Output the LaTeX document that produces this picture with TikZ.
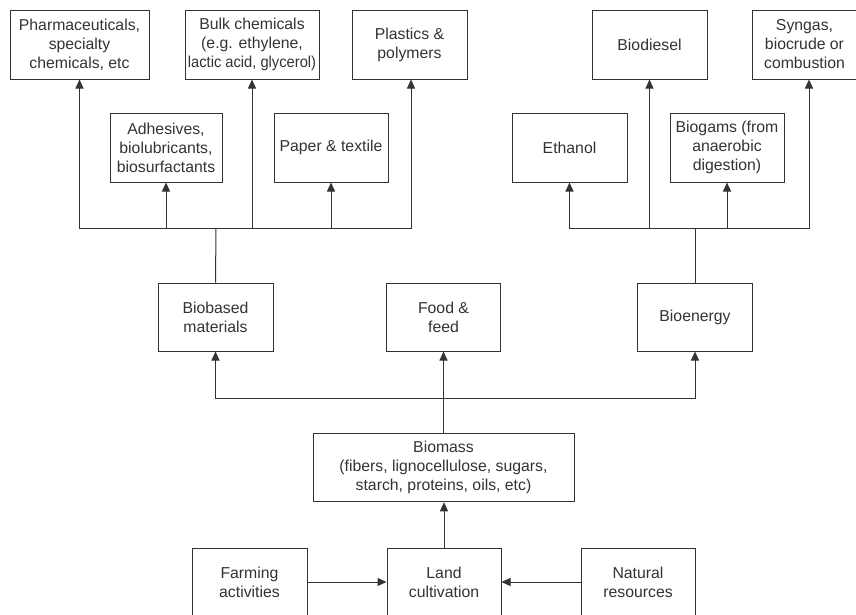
\documentclass[tikz,border=0pt]{standalone}
\usepackage{fontspec}
\setmainfont{Liberation Sans}
\usetikzlibrary{arrows.meta}
\definecolor{ink}{gray}{0.2}
\begin{document}
\begin{tikzpicture}[x=1pt,y=-1pt,
  box/.style={draw=ink,line width=1pt,align=center,inner sep=0pt,
    text=ink,font=\fontsize{15.8}{19}\selectfont,minimum height=69pt},
  link/.style={draw=ink,line width=1pt},
  arr/.style={link,-{Triangle[length=9pt,width=8pt]}}]
\useasboundingbox (0,0) rectangle (856,614);
\clip (0,0) rectangle (856,614);
% products of biobased materials
\node[box,minimum width=139pt] (pharma) at (79.5,44.5) {Pharmaceuticals,\\specialty\\chemicals, etc};
\node[box,minimum width=134pt] (bulk) at (252,44.5) {Bulk chemicals\\(e.g. ethylene,\\\scalebox{0.93}[1]{lactic acid, glycerol)}};
\node[box,minimum width=115pt] (plast) at (409.5,44.5) {Plastics \&\\polymers};
\node[box,minimum width=112pt] (adhes) at (166,147.5) {Adhesives,\\biolubricants,\\biosurfactants};
\node[box,minimum width=114pt] (paper) at (331,147.5) {Paper \& textile};
% products of bioenergy
\node[box,minimum width=115pt] (diesel) at (649.5,44.5) {Biodiesel};
\node[box,minimum width=105pt] (syngas) at (804.5,44.5) {Syngas,\\biocrude or\\combustion};
\node[box,minimum width=115pt] (ethanol) at (569.5,147.5) {Ethanol};
\node[box,minimum width=114pt] (biogas) at (727,147.5) {Biogams (from\\anaerobic\\digestion)};
% uses of biomass
\node[box,minimum width=115pt,minimum height=68pt] (biobased) at (215.5,317) {Biobased\\materials};
\node[box,minimum width=114.5pt,minimum height=68pt] (food) at (443.5,317) {Food \&\\feed};
\node[box,minimum width=114.5pt,minimum height=68pt] (energy) at (695,317) {Bioenergy};
% biomass and its sources
\node[box,minimum width=261pt,minimum height=68.5pt] (biomass) at (443.5,467.5) {Biomass\\(fibers, lignocellulose, sugars,\\starch, proteins, oils, etc)};
\node[box,minimum width=114pt,minimum height=68pt] (land) at (444,582) {Land\\cultivation};
\node[box,minimum width=115pt,minimum height=68pt] (farm) at (249.5,582) {Farming\\activities};
\node[box,minimum width=114pt,minimum height=68pt] (natural) at (638,582) {Natural\\resources};
% junctions of the distribution lines
\coordinate (jL) at (216,228);
\coordinate (jR) at (695,228);
\coordinate (jM) at (443.5,398);
% biobased materials branch
\draw[link] (biobased.north) -- (jL);
\draw[arr] (jL) -| (pharma.south);
\draw[arr] (jL) -| (adhes.south);
\draw[arr] (jL) -| (bulk.south);
\draw[arr] (jL) -| (paper.south);
\draw[arr] (jL) -| ([xshift=1.5pt]plast.south);
% bioenergy branch
\draw[link] (energy.north) -- (jR);
\draw[arr] (jR) -| (ethanol.south);
\draw[arr] (jR) -| (diesel.south);
\draw[arr] (jR) -| (biogas.south);
\draw[arr] (jR) -| ([xshift=4.5pt]syngas.south);
% biomass distribution
\draw[arr] (biomass.north) -- (food.south);
\draw[arr] (jM) -| (biobased.south);
\draw[arr] (jM) -| (energy.south);
% sources
\draw[arr] (land.north) -- (land.north |- biomass.south);
\draw[arr] (farm.east) -- (land.west);
\draw[arr] (natural.west) -- (land.east);
\end{tikzpicture}
\end{document}
